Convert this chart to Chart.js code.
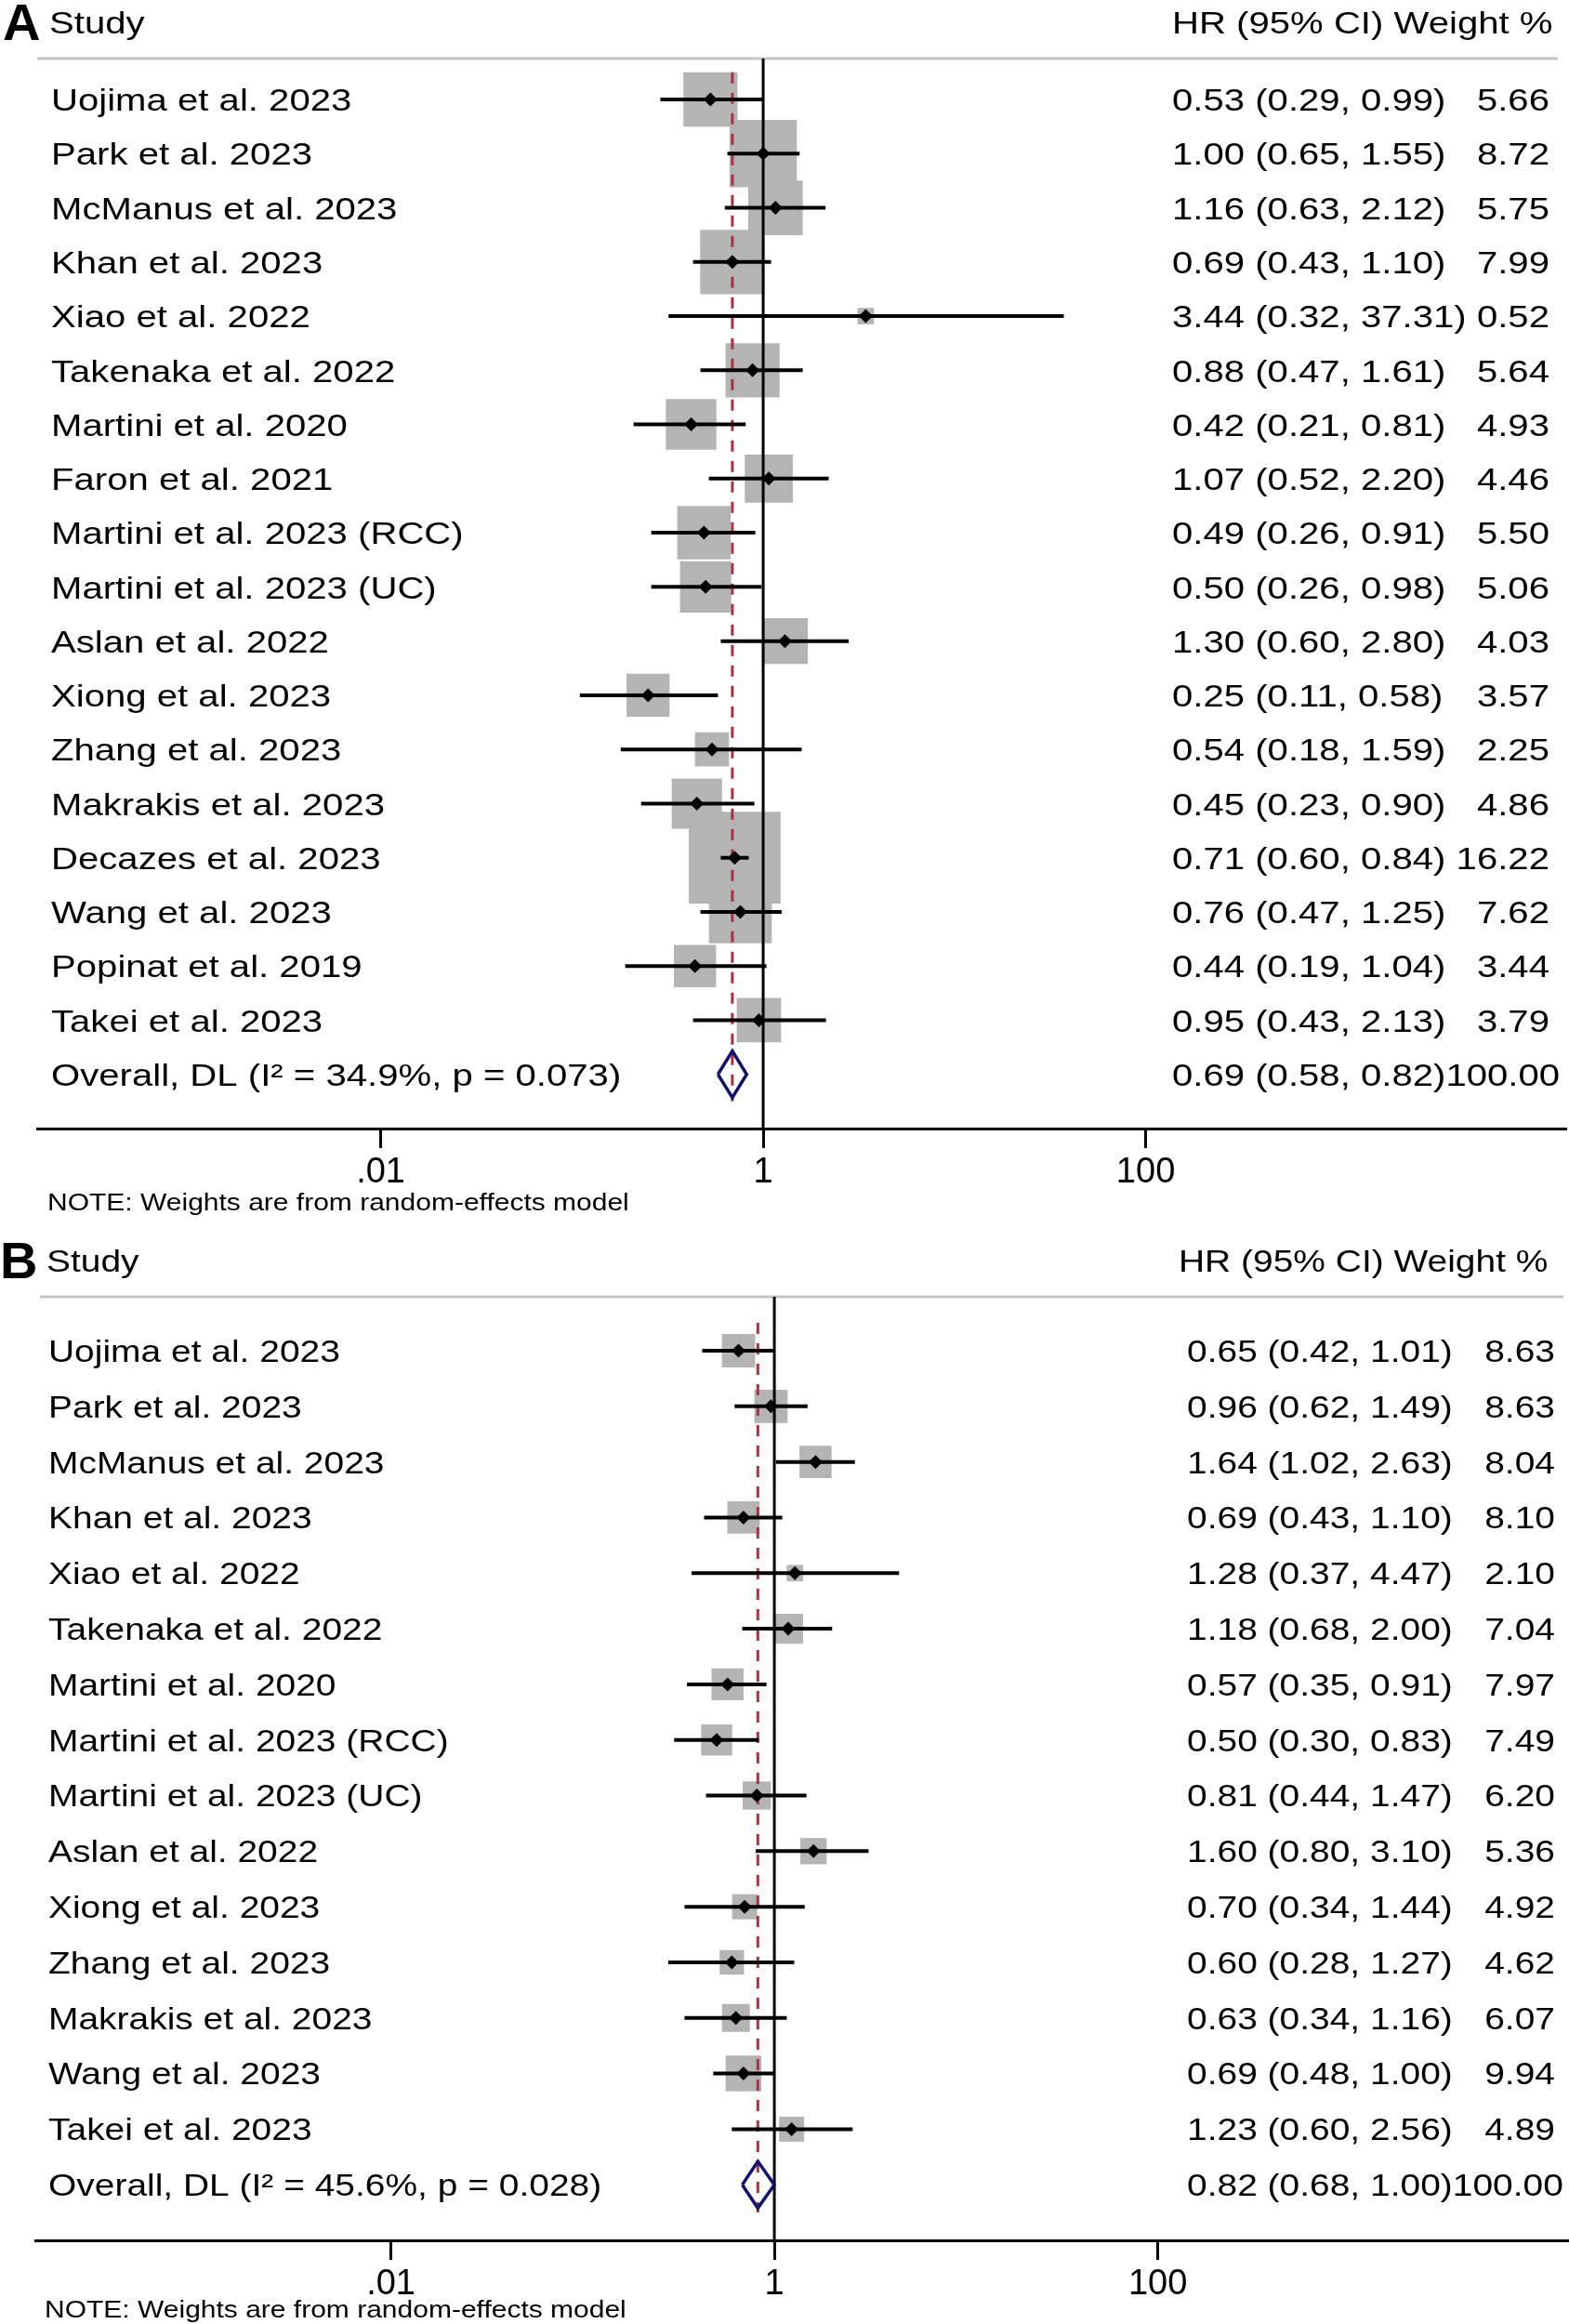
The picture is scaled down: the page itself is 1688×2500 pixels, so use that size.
<!DOCTYPE html>
<html>
<head>
<meta charset="utf-8">
<title>Forest plots</title>
<script src="https://cdn.jsdelivr.net/npm/chart.js@4.4.1/dist/chart.umd.min.js"></script>
<style>
  body { margin: 0; background: #fff; }
  #wrap { position: relative; width: 1688px; height: 2500px; }
  canvas { position: absolute; left: 0; }
</style>
</head>
<body>
<div id="wrap">
  <canvas id="chartA" width="1688" height="1320" style="top:0"></canvas>
  <canvas id="chartB" width="1688" height="1180" style="top:1320px"></canvas>
</div>
<script>
// Panel A
const studiesA = ['Uojima et al. 2023', 'Park et al. 2023', 'McManus et al. 2023', 'Khan et al. 2023',
  'Xiao et al. 2022', 'Takenaka et al. 2022', 'Martini et al. 2020', 'Faron et al. 2021',
  'Martini et al. 2023 (RCC)', 'Martini et al. 2023 (UC)', 'Aslan et al. 2022', 'Xiong et al. 2023',
  'Zhang et al. 2023', 'Makrakis et al. 2023', 'Decazes et al. 2023', 'Wang et al. 2023',
  'Popinat et al. 2019', 'Takei et al. 2023'];
const hrA = [0.53, 1.00, 1.16, 0.69, 3.44, 0.88, 0.42, 1.07, 0.49, 0.50, 1.30, 0.25, 0.54, 0.45, 0.71, 0.76, 0.44, 0.95];
const lowA = [0.29, 0.65, 0.63, 0.43, 0.32, 0.47, 0.21, 0.52, 0.26, 0.26, 0.60, 0.11, 0.18, 0.23, 0.60, 0.47, 0.19, 0.43];
const highA = [0.99, 1.55, 2.12, 1.10, 37.31, 1.61, 0.81, 2.20, 0.91, 0.98, 2.80, 0.58, 1.59, 0.90, 0.84, 1.25, 1.04, 2.13];
const weightA = [5.66, 8.72, 5.75, 7.99, 0.52, 5.64, 4.93, 4.46, 5.50, 5.06, 4.03, 3.57, 2.25, 4.86, 16.22, 7.62, 3.44, 3.79];
const overallLabelA = 'Overall, DL (I\u00B2 = 34.9%, p = 0.073)';
const overallA = [0.69, 0.58, 0.82]; // HR, low, high
const overallWeightA = '100.00';

// Panel B
const studiesB = ['Uojima et al. 2023', 'Park et al. 2023', 'McManus et al. 2023', 'Khan et al. 2023',
  'Xiao et al. 2022', 'Takenaka et al. 2022', 'Martini et al. 2020', 'Martini et al. 2023 (RCC)',
  'Martini et al. 2023 (UC)', 'Aslan et al. 2022', 'Xiong et al. 2023', 'Zhang et al. 2023',
  'Makrakis et al. 2023', 'Wang et al. 2023', 'Takei et al. 2023'];
const hrB = [0.65, 0.96, 1.64, 0.69, 1.28, 1.18, 0.57, 0.50, 0.81, 1.60, 0.70, 0.60, 0.63, 0.69, 1.23];
const lowB = [0.42, 0.62, 1.02, 0.43, 0.37, 0.68, 0.35, 0.30, 0.44, 0.80, 0.34, 0.28, 0.34, 0.48, 0.60];
const highB = [1.01, 1.49, 2.63, 1.10, 4.47, 2.00, 0.91, 0.83, 1.47, 3.10, 1.44, 1.27, 1.16, 1.00, 2.56];
const weightB = [8.63, 8.63, 8.04, 8.10, 2.10, 7.04, 7.97, 7.49, 6.20, 5.36, 4.92, 4.62, 6.07, 9.94, 4.89];
const overallLabelB = 'Overall, DL (I\u00B2 = 45.6%, p = 0.028)';
const overallB = [0.82, 0.68, 1.00];
const overallWeightB = '100.00';

// axis ticks
const tickValues = [0.01, 1, 100];
const tickLabels = ['.01', '1', '100'];

const noteText = 'NOTE: Weights are from random-effects model';

Chart.defaults.font.family = '"Liberation Sans", Arial, sans-serif';
Chart.defaults.color = '#000';

const GRAY = '#b4b4b4';
const RED = '#a8323e';
const NAVY = '#12126e';

const fmt = (v) => v.toFixed(2);

// text is a little wider than tall in the original, so it is stretched sideways
const drawText = (ctx, str, x, y, size, align, sx, bold) => {
  ctx.save();
  ctx.font = (bold ? 'bold ' : '') + size + 'px "Liberation Sans", Arial, sans-serif';
  ctx.textAlign = align;
  ctx.textBaseline = 'alphabetic';
  ctx.translate(x, y);
  ctx.scale(sx, 1);
  ctx.fillText(str, 0, 0);
  ctx.restore();
};

const forestText = {
  id: 'forestText',
  beforeDatasetsDraw(chart, args, o) {
    const { ctx, chartArea } = chart;
    ctx.save();
    ctx.strokeStyle = '#c4c4c4';
    ctx.lineWidth = 3;
    ctx.beginPath();
    ctx.moveTo(o.ruleLeft, chartArea.top);
    ctx.lineTo(o.ruleRight, chartArea.top);
    ctx.stroke();
    ctx.restore();
  },
  afterDraw(chart, args, o) {
    const ctx = chart.ctx;
    const y = chart.scales.y;
    const off = o.size * 0.36;
    ctx.save();
    ctx.fillStyle = '#000';
    drawText(ctx, o.panel, o.panelX, o.panelY, 56, 'left', 1, true);
    drawText(ctx, 'Study', o.headX, o.headY, o.size, 'left', o.sx);
    drawText(ctx, 'HR (95% CI) Weight %', o.rightHeadX, o.headY, o.size, 'left', o.sx);
    o.studies.forEach((s, i) => {
      const py = y.getPixelForValue(i) + off;
      drawText(ctx, s, o.labelX, py, o.size, 'left', o.sx);
      drawText(ctx, fmt(o.hr[i]) + ' (' + fmt(o.low[i]) + ', ' + fmt(o.high[i]) + ')', o.hrX, py, o.size, 'left', o.sx);
      drawText(ctx, fmt(o.weight[i]), o.weightX, py, o.size, 'right', o.sx);
    });
    const n = o.studies.length;
    const py = y.getPixelForValue(n) + off;
    drawText(ctx, o.overallLabel, o.labelX, py, o.size, 'left', o.sx);
    drawText(ctx, fmt(o.overall[0]) + ' (' + fmt(o.overall[1]) + ', ' + fmt(o.overall[2]) + ')' + o.overallWeight,
      o.hrX, py, o.size, 'left', o.sx);
    drawText(ctx, noteText, o.noteX, o.noteY, 25, 'left', 1.2);
    ctx.restore();
  }
};

const makeForest = (canvasId, d) => {
  const n = d.studies.length;
  const squares = d.hr.map((v, i) => ({ x: v, y: i }));
  const ci = d.low.flatMap((lo, i) => [{ x: lo, y: i }, { x: d.high[i], y: i }, { x: d.high[i], y: null }]);
  const [oHr, oLow, oHigh] = d.overall;
  const diamond = [
    { x: oLow, y: n }, { x: oHr, y: n - d.diamondHalf }, { x: oHigh, y: n },
    { x: oHr, y: n + d.diamondHalf }, { x: oLow, y: n }
  ];

  return new Chart(document.getElementById(canvasId).getContext('2d'), {
    type: 'scatter',
    data: {
      datasets: [
        {
          label: 'weights',
          data: squares,
          pointStyle: 'rect',
          pointRadius: (ctx) => d.boxScale * Math.sqrt(d.weight[ctx.dataIndex]) / Math.SQRT2,
          backgroundColor: GRAY,
          borderWidth: 0,
          order: 6
        },
        {
          label: 'null',
          data: [{ x: 1, y: d.yMin }, { x: 1, y: d.yMax }],
          showLine: true,
          borderColor: '#000',
          borderWidth: 3,
          pointRadius: 0,
          order: 5
        },
        {
          label: 'pooled',
          data: [{ x: oHr, y: -0.5 }, { x: oHr, y: n + 0.5 }],
          showLine: true,
          borderColor: RED,
          borderWidth: 3,
          borderDash: [12, 10],
          pointRadius: 0,
          order: 4
        },
        {
          label: 'ci',
          data: ci,
          showLine: true,
          spanGaps: false,
          borderColor: '#000',
          borderWidth: 4,
          pointRadius: 0,
          order: 3
        },
        {
          label: 'hr',
          data: squares,
          pointStyle: 'rectRot',
          pointRadius: 7.5,
          backgroundColor: '#000',
          borderWidth: 0,
          order: 2
        },
        {
          label: 'overall',
          data: diamond,
          showLine: true,
          borderColor: NAVY,
          borderWidth: 3.5,
          borderJoinStyle: 'miter',
          pointRadius: 0,
          fill: false,
          order: 1
        }
      ]
    },
    options: {
      responsive: false,
      animation: false,
      devicePixelRatio: 1,
      layout: { padding: d.padding, autoPadding: false },
      plugins: {
        legend: { display: false },
        tooltip: { enabled: false },
        forestText: d.text
      },
      scales: {
        x: {
          type: 'logarithmic',
          bounds: 'data',
          min: d.xMin,
          max: d.xMax,
          afterBuildTicks: (scale) => {
            scale.ticks = tickValues.map((v) => ({ value: v }));
          },
          afterFit: (scale) => {
            scale.height = d.axisHeight;
            scale.paddingLeft = 0;
            scale.paddingRight = 0;
          },
          ticks: {
            autoSkip: false,
            maxRotation: 0,
            padding: 4,
            font: { size: 38 },
            color: '#000',
            callback: (v, i) => tickLabels[i]
          },
          grid: {
            display: true,
            drawOnChartArea: false,
            drawTicks: true,
            tickLength: 21,
            color: '#000',
            lineWidth: 3
          },
          border: { display: true, color: '#000', width: 3 }
        },
        y: {
          type: 'linear',
          reverse: true,
          display: false,
          min: d.yMin,
          max: d.yMax
        }
      }
    },
    plugins: [forestText]
  });
};

makeForest('chartA', {
  studies: studiesA, hr: hrA, low: lowA, high: highA, weight: weightA, overall: overallA,
  boxScale: 24.5, diamondHalf: 0.43,
  xMin: Math.pow(10, -3.796), xMax: Math.pow(10, 4.194),
  yMin: -0.755, yMax: 19,
  padding: { left: 40, right: 4, top: 63, bottom: 0 },
  axisHeight: 106,
  text: {
    studies: studiesA, hr: hrA, low: lowA, high: highA, weight: weightA,
    overall: overallA, overallLabel: overallLabelA, overallWeight: overallWeightA,
    panel: 'A', panelX: 3, panelY: 43,
    headX: 53, headY: 36, rightHeadX: 1261,
    labelX: 55, hrX: 1261, weightX: 1667,
    size: 34, sx: 1.18,
    noteX: 51, noteY: 1302,
    ruleLeft: 40, ruleRight: 1676
  }
});

makeForest('chartB', {
  studies: studiesB, hr: hrB, low: lowB, high: highB, weight: weightB, overall: overallB,
  boxScale: 12.2, diamondHalf: 0.42,
  xMin: Math.pow(10, -3.855), xMax: Math.pow(10, 4.145),
  yMin: -0.97, yMax: 16,
  padding: { left: 38, right: 0, top: 75, bottom: 0 },
  axisHeight: 90,
  text: {
    studies: studiesB, hr: hrB, low: lowB, high: highB, weight: weightB,
    overall: overallB, overallLabel: overallLabelB, overallWeight: overallWeightB,
    panel: 'B', panelX: 0, panelY: 55,
    headX: 50, headY: 48, rightHeadX: 1268,
    labelX: 52, hrX: 1277, weightX: 1673,
    size: 33, sx: 1.18,
    noteX: 48, noteY: 1173,
    ruleLeft: 43, ruleRight: 1682
  }
});
</script>
</body>
</html>
